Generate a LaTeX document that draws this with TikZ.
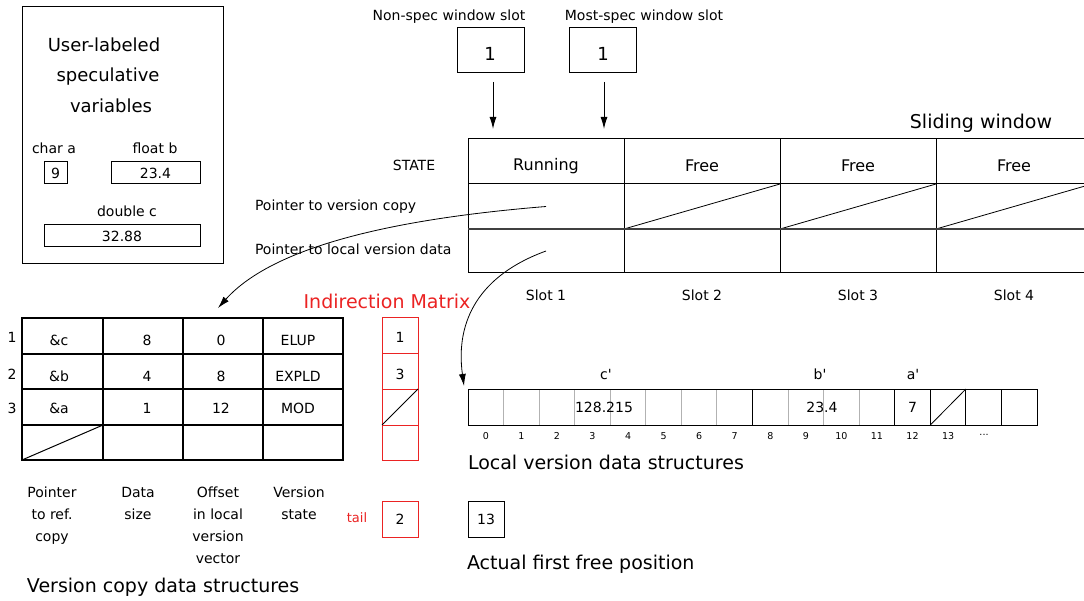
\documentclass[tikz,border=0pt]{standalone}
\usepackage{fontspec}
\setmainfont{DejaVu Sans}
\usetikzlibrary{arrows.meta}
\definecolor{imred}{RGB}{235,35,35}
\tikzset{
  txt/.style={inner sep=0pt, outer sep=0pt},
  f10/.style={txt, font=\fontsize{9.5}{11}\selectfont},
  f13/.style={txt, font=\fontsize{13}{16}\selectfont},
  f14/.style={txt, font=\fontsize{14}{17}\selectfont},
  f16/.style={txt, font=\fontsize{16}{19}\selectfont},
  f18/.style={txt, font=\fontsize{18}{22}\selectfont},
  f19/.style={txt, font=\fontsize{19}{23}\selectfont},
  ml/.style={txt, font=\fontsize{14}{22}\selectfont, align=center, anchor=north},
  cell/.style={draw, line width=1pt, inner sep=0pt, outer sep=0pt},
  vcell/.style={draw, line width=1.3pt, inner sep=0pt, outer sep=0pt},
  imcell/.style={draw=imred, line width=1pt, inner sep=0pt, outer sep=0pt},
  bytecell/.style={draw=black!30, line width=1pt, inner sep=0pt, outer sep=0pt},
  arr/.style={-{Latex[length=12pt,width=7pt]}, line width=1pt},
  curvearr/.style={-{Latex[length=12pt,width=7pt]}, line width=0.8pt},
}
\begin{document}
\begin{tikzpicture}[x=1pt,y=-1pt]
\useasboundingbox (0,0) rectangle (1084,601);
\fill[white] (0,0) rectangle (1084,601);
\clip (0,0) rectangle (1084,601);

% ---- user-labeled speculative variables box
\node[cell, minimum width=201, minimum height=257] (ulbox) at (122.5,135.5) {};
\node[f18] (ul1) at (104,45) {User-labeled};
\node[f18] (ul2) at (108,77) {speculative};
\node[f18] (ul3) at (111,106) {variables};
\node[f14] (lba) at (54,148) {char a};
\node[f14] (lbb) at (155,148) {float b};
\node[cell, f14, minimum width=23, minimum height=22] (va) at (55.5,173) {9};
\node[cell, f14, minimum width=89, minimum height=22] (vb) at (155.5,173) {23.4};
\node[f14] (lbc) at (127,211) {double c};
\node[cell, f14, minimum width=156, minimum height=22] (vc) at (122,236) {32.88};

% ---- window slot pointers
\node[f14] (nslab) at (449,17) {Non-spec window slot};
\node[f14] (mslab) at (644,17) {Most-spec window slot};
\node[cell, minimum width=67, minimum height=45] (nsbox) at (490.5,50.5) {};
\node[cell, minimum width=67, minimum height=45] (msbox) at (602.5,50.5) {};
\node[f18] (nsval) at (490,54) {1};
\node[f18] (msval) at (603,54) {1};
\coordinate (ns-a) at (493,82);
\coordinate (ns-b) at (493,129);
\coordinate (ms-a) at (604,82);
\coordinate (ms-b) at (604,129);
\draw[arr] (ns-a) -- (ns-b);
\draw[arr] (ms-a) -- (ms-b);

% ---- sliding window
\node[f19] (swlab) at (981,123) {Sliding window};
\foreach \i/\t in {1/Running,2/Free,3/Free,4/Free}{
  \pgfmathsetmacro\cx{468+156*(\i-1)+78}
  \node[cell, minimum width=156, minimum height=45] (s\i-st) at (\cx,161.5) {};
  \node[f16] (s\i-stt) at (\cx,166) {\t};
  \node[cell, minimum width=156, minimum height=45] (s\i-vc) at (\cx,206.5) {};
  \node[cell, minimum width=156, minimum height=44] (s\i-lv) at (\cx,251) {};
  \node[f14] (s\i-lab) at (\cx,295) {Slot \i};
}
\foreach \i in {2,3,4}{
  \draw[line width=0.8pt] (s\i-vc.south west) -- (s\i-vc.north east);
}
\draw[line width=1.8pt, black!75] (s1-lv.north west) -- (s4-lv.north east);
\node[f14] (statelab) at (414,165) {STATE};
\node[f14, anchor=west] (pvclab) at (255,207) {Pointer to version copy};
\node[f14, anchor=west] (plvlab) at (255,249) {Pointer to local version data};

% ---- version copy table
\foreach \r/\y/\ty/\h/\a/\b/\c/\d in {1/336/340/36/\&c/8/0/ELUP, 2/371.5/376/35/\&b/4/8/EXPLD, 3/407/408/36/\&a/1/12/MOD, 4/442.5/442.5/35/{}/{}/{}/{}}{
  \node[vcell, minimum width=81, minimum height=\h] (vc\r-1) at (62.5,\y) {};
  \node[vcell, minimum width=80, minimum height=\h] (vc\r-2) at (143,\y) {};
  \node[vcell, minimum width=80, minimum height=\h] (vc\r-3) at (223,\y) {};
  \node[vcell, minimum width=80, minimum height=\h] (vc\r-4) at (303,\y) {};
  \node[f14] (vc\r-1t) at (59,\ty) {\a};
  \node[f14] (vc\r-2t) at (147,\ty) {\b};
  \node[f14] (vc\r-3t) at (221,\ty) {\c};
  \node[f14] (vc\r-4t) at (298,\ty) {\d};
}
\draw[line width=1pt] (vc4-1.south west) -- (vc4-1.north east);
\node[f14] (rn1) at (12,337) {1};
\node[f14] (rn2) at (12,374) {2};
\node[f14] (rn3) at (12,408) {3};
\node[ml] (cap1) at (52,487) {Pointer\\to ref.\\copy};
\node[ml] (cap2) at (138,487) {Data\\size};
\node[ml] (cap3) at (218,487) {Offset\\in local\\version\\vector};
\node[ml] (cap4) at (299,487) {Version\\state};
\node[f19, anchor=west] (vctitle) at (27,587) {Version copy data structures};

% ---- indirection matrix
\node[f19, text=imred] (imlab) at (387,301) {Indirection Matrix};
\foreach \r/\y/\ty/\h/\v in {1/336/337/36/1, 2/371.5/374/35/3, 3/407/407/36/{}, 4/442.5/442.5/35/{}}{
  \node[imcell, minimum width=36, minimum height=\h] (im\r) at (400,\y) {};
  \node[f14] (im\r t) at (400,\ty) {\v};
}
\draw[line width=0.8pt] (im3.south west) -- (im3.north east);
\node[f13, text=imred] (taillab) at (357,518) {tail};
\node[imcell, f14, minimum width=36, minimum height=36] (tailbox) at (400,519) {2};

% ---- local version data
\foreach \i in {0,...,15}{
  \node[bytecell, minimum width=35.5625, minimum height=36] (b\i) at ({468+35.5625*(\i+0.5)},407) {};
}
\draw[line width=1pt] (b0.north west) rectangle (b7.south east);
\draw[line width=1pt] (b8.north west) rectangle (b11.south east);
\foreach \i in {12,...,15}{
  \draw[line width=1pt] (b\i.north west) rectangle (b\i.south east);
}
\draw[line width=0.8pt] (b13.south west) -- (b13.north east);
\node[f14] (cval) at (604,407) {128.215};
\node[f14] (bval) at (822,407) {23.4};
\node[f14] (aval) at (b12.center) {7};
\node[f14] (cpl) at (606,374) {c\textquotesingle};
\node[f14] (bpl) at (820,374) {b\textquotesingle};
\node[f14] (apl) at (913,374) {a\textquotesingle};
\foreach \i in {0,...,13}{
  \node[f10] (ix\i) at ({468+35.5625*(\i+0.5)},436) {\i};
}
\node[f10] (ixdots) at (984,435) {...};
\node[f19, anchor=west] (lvtitle) at (468,462) {Local version data structures};
\node[cell, f14, minimum width=36, minimum height=36] (ffbox) at (486,519) {13};
\node[f19, anchor=west] (fflab) at (467,564) {Actual first free position};

% ---- curved pointers
\coordinate (vcTarget) at (218,308);
\coordinate (lvTarget) at (464,386);
\draw[curvearr] (s1-vc.center) .. controls (380,220) and (270,250) .. (vcTarget);
\draw[curvearr] (s1-lv.center) .. controls (480,275) and (455,320) .. (lvTarget);
\end{tikzpicture}
\end{document}
